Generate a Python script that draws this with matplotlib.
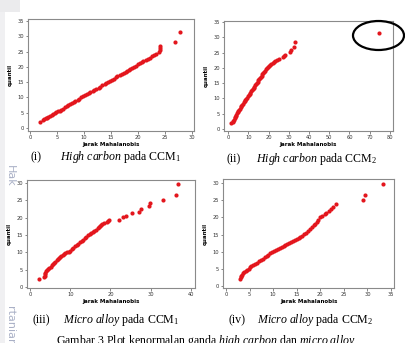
import matplotlib
matplotlib.use("Agg")
import matplotlib.pyplot as plt
from matplotlib.patches import Ellipse, Rectangle

plt.rcParams['mathtext.fontset'] = 'custom'
plt.rcParams['mathtext.rm'] = 'Liberation Serif'
plt.rcParams['mathtext.it'] = 'Liberation Serif:italic'

# (i) high carbon, CCM1
hc1_x = [1.8, 2.4, 2.6, 2.9, 3.1, 3.4, 3.7, 4.0, 4.3, 4.6, 4.9, 5.2, 5.5, 5.8, 6.1,
         6.4, 6.8, 7.1, 7.4, 7.8, 8.1, 8.4, 8.8, 9.1, 9.5, 9.8, 10.2, 10.5, 10.9, 11.2,
         11.6, 11.9, 12.3, 12.7, 13.0, 13.4, 13.8, 14.1, 14.5, 14.9, 15.2, 15.6, 15.9, 16.2, 16.6,
         17.0, 17.4, 17.7, 18.0, 18.3, 18.6, 18.9, 19.3, 19.6, 20.0, 20.3, 20.7, 21.0, 21.4, 21.8,
         22.2, 22.6, 23.0, 23.4, 23.9, 24.0, 24.0, 24.1, 26.9, 27.7]
hc1_y = [1.9, 2.5, 2.8, 3.1, 3.4, 3.7, 4.0, 4.3, 4.6, 4.9, 5.1, 5.4, 5.7, 6.0, 6.3,
         6.7, 7.1, 7.4, 7.8, 8.2, 8.5, 8.9, 9.3, 9.6, 10.0, 10.3, 10.7, 11.0, 11.4, 11.7,
         12.1, 12.4, 12.8, 13.2, 13.5, 13.9, 14.3, 14.6, 15.0, 15.4, 15.7, 16.1, 16.6, 17.0, 17.3,
         17.6, 17.9, 18.2, 18.6, 19.0, 19.4, 19.7, 20.1, 20.4, 20.8, 21.1, 21.5, 21.8, 22.2, 22.6,
         23.0, 23.4, 23.8, 24.3, 24.8, 25.4, 26.1, 26.8, 28.2, 31.4]

# (ii) high carbon, CCM2
hc2_x = [1.6, 2.3, 2.6, 2.9, 3.2, 3.4, 3.7, 4.0, 4.3, 4.7, 5.0, 5.4, 5.8, 6.2, 6.6,
         7.0, 7.4, 7.8, 8.2, 8.6, 9.0, 9.4, 9.8, 10.2, 10.6, 11.0, 11.4, 11.8, 12.2, 12.6,
         13.0, 13.4, 13.8, 14.2, 14.6, 15.0, 15.4, 15.8, 16.2, 16.6, 17.0, 17.4, 17.8, 18.2, 18.6,
         19.0, 19.5, 20.0, 20.6, 21.3, 22.0, 22.7, 23.4, 24.2, 25.0, 27.0, 27.6, 28.2, 30.5, 31.0,
         32.4, 33.1, 74.6]
hc2_y = [1.9, 2.2, 2.6, 3.0, 3.5, 3.9, 4.3, 4.7, 5.1, 5.5, 5.9, 6.3, 6.7, 7.1, 7.5,
         7.9, 8.3, 8.7, 9.1, 9.5, 9.9, 10.3, 10.7, 11.1, 11.5, 11.9, 12.3, 12.7, 13.1, 13.5,
         13.9, 14.3, 14.7, 15.1, 15.5, 15.9, 16.3, 16.7, 17.1, 17.5, 17.9, 18.3, 18.7, 19.1, 19.5,
         19.9, 20.3, 20.6, 20.9, 21.2, 21.5, 21.8, 22.1, 22.5, 22.9, 23.5, 24.0, 24.3, 25.2, 25.8,
         26.9, 28.3, 31.3]

# (iii) micro alloy, CCM1
ma1_x = [2.3, 3.5, 3.6, 3.6, 3.7, 3.9, 4.2, 4.5, 4.8, 5.1, 5.4, 5.7, 6.0, 6.3, 6.6,
         6.9, 7.2, 7.5, 7.8, 8.1, 8.4, 8.8, 9.2, 9.6, 10.0, 10.4, 10.8, 11.2, 11.6, 12.0,
         12.4, 12.8, 13.2, 13.6, 14.0, 14.4, 14.8, 15.2, 15.6, 16.0, 16.4, 16.8, 17.1, 17.4, 17.7,
         18.0, 18.4, 19.1, 19.4, 19.7, 22.0, 23.0, 23.9, 25.3, 27.2, 27.7, 29.5, 29.9, 33.1, 36.2,
         36.8]
ma1_y = [2.4, 2.9, 3.3, 3.7, 4.1, 4.5, 4.9, 5.3, 5.6, 5.9, 6.3, 6.6, 7.0, 7.3, 7.7,
         8.0, 8.3, 8.6, 8.9, 9.2, 9.5, 9.7, 10.0, 10.2, 10.5, 10.9, 11.3, 11.7, 12.1, 12.5,
         12.9, 13.3, 13.7, 14.1, 14.5, 14.9, 15.3, 15.6, 15.9, 16.2, 16.5, 16.9, 17.3, 17.7, 18.0,
         18.3, 18.6, 18.9, 19.1, 19.4, 19.4, 20.1, 20.4, 21.3, 21.8, 22.6, 23.3, 24.2, 25.0, 26.6,
         29.7]

# (iv) micro alloy, CCM2
ma2_x = [3.0, 3.1, 3.2, 3.4, 3.6, 3.9, 4.2, 4.5, 4.8, 5.1, 5.4, 5.8, 6.2, 6.6, 7.0,
         7.4, 7.8, 8.2, 8.6, 9.0, 9.4, 9.8, 10.2, 10.6, 11.0, 11.4, 11.8, 12.2, 12.6, 13.0,
         13.4, 13.8, 14.2, 14.6, 15.0, 15.4, 15.8, 16.2, 16.6, 17.0, 17.4, 17.8, 18.2, 18.6, 18.9,
         19.2, 19.5, 19.9, 20.4, 20.9, 21.3, 21.8, 22.3, 22.7, 23.3, 29.1, 29.4, 33.4]
ma2_y = [2.1, 2.5, 2.9, 3.3, 3.7, 4.1, 4.5, 4.8, 5.1, 5.4, 5.7, 6.0, 6.4, 6.8, 7.2,
         7.6, 8.0, 8.4, 8.7, 9.1, 9.5, 9.9, 10.3, 10.6, 10.8, 11.1, 11.3, 11.6, 11.9, 12.2,
         12.4, 12.7, 13.0, 13.3, 13.7, 14.0, 14.3, 14.7, 15.1, 15.6, 16.1, 16.6, 17.1, 17.7, 18.2,
         18.7, 19.2, 20.0, 20.5, 21.0, 21.4, 21.9, 22.5, 23.0, 23.9, 25.0, 26.6, 29.7]

xlabel = "Jarak Mahalanobis"
ylabel = "quantil"
captions = [("(i)", r"$\mathit{High\ carbon}$ pada CCM$_1$"),
            ("(ii)", r"$\mathit{High\ carbon}$ pada CCM$_2$"),
            ("(iii)", r"$\mathit{Micro\ alloy}$ pada CCM$_1$"),
            ("(iv)", r"$\mathit{Micro\ alloy}$ pada CCM$_2$")]
fig_caption = r"Gambar 3 Plot kenormalan ganda $\mathit{high\ carbon}$ dan $\mathit{micro\ alloy}$"

W, H = 406, 343
fig = plt.figure(figsize=(W / 100, H / 100), dpi=100)


def px_rect(l, t, r, b):
    return [l / W, 1 - b / H, (r - l) / W, (b - t) / H]


panels = [
    (px_rect(28, 19, 194, 131), hc1_x, hc1_y, (-0.37, 30.37), (-1.0, 35.65), range(0, 31, 5), range(0, 36, 5)),
    (px_rect(224, 21, 393, 131), hc2_x, hc2_y, (-2.0, 81.5), (-0.65, 35.33), range(0, 81, 10), range(0, 36, 5)),
    (px_rect(27, 180, 195, 288), ma1_x, ma1_y, (-0.75, 41.0), (-0.29, 30.9), range(0, 41, 10), range(0, 31, 5)),
    (px_rect(223, 179, 394, 288), ma2_x, ma2_y, (-0.64, 35.64), (-0.58, 31.2), range(0, 36, 5), range(0, 31, 5)),
]

for rect, xs, ys, xl, yl, xt, yt in panels:
    ax = fig.add_axes(rect)
    ax.plot(xs, ys, 'o', color='#e3161d', ms=3.0, mec='none')
    ax.set_xlim(*xl)
    ax.set_ylim(*yl)
    ax.set_xticks(list(xt))
    ax.set_yticks(list(yt))
    ax.tick_params(labelsize=3.7, length=1.8, width=0.5, pad=1.2,
                   colors='#555555', labelcolor='#333333')
    for s in ax.spines.values():
        s.set_color('#8a8a8a')
        s.set_linewidth(0.8)
    ax.set_xlabel(xlabel, fontsize=4.0, fontweight='bold', labelpad=1.5)
    ax.set_ylabel(ylabel, fontsize=4.0, fontweight='bold', labelpad=3)

# outlier mark in panel (ii)
fig.add_artist(Ellipse((378.5 / W, 1 - 35.5 / H), 51 / W, 29 / H,
                       fill=False, ec='black', lw=1.6))

# panel captions
cap_pos = [(31, 60, 160), (227, 256, 162), (33, 63, 323), (229, 257, 323)]
for (num, txt), (xn, xt_, yb) in zip(captions, cap_pos):
    fig.text(xn / W, 1 - yb / H, num, fontsize=8.6, family='Liberation Serif', va='baseline')
    fig.text(xt_ / W, 1 - yb / H, txt, fontsize=8.6, family='Liberation Serif', va='baseline')

fig.text(56 / W, 1 - 344 / H, fig_caption, fontsize=8.6, family='Liberation Serif', va='baseline')

# page margin watermark
fig.add_artist(Rectangle((0, 0), 5 / W, 1, color='#f0f0f2', lw=0))
fig.add_artist(Rectangle((0, 1 - 12 / H), 20 / W, 12 / H, color='#ebebed', lw=0))
fig.text(10 / W, 1 - 176 / H, "Hak", rotation=270, fontsize=8, color='#a9b0c6',
         ha='center', va='center')
fig.text(10 / W, 1 - 326 / H, "rtanian", rotation=270, fontsize=8, color='#a9b0c6',
         ha='center', va='center')

fig.savefig("out.png", dpi=100)
